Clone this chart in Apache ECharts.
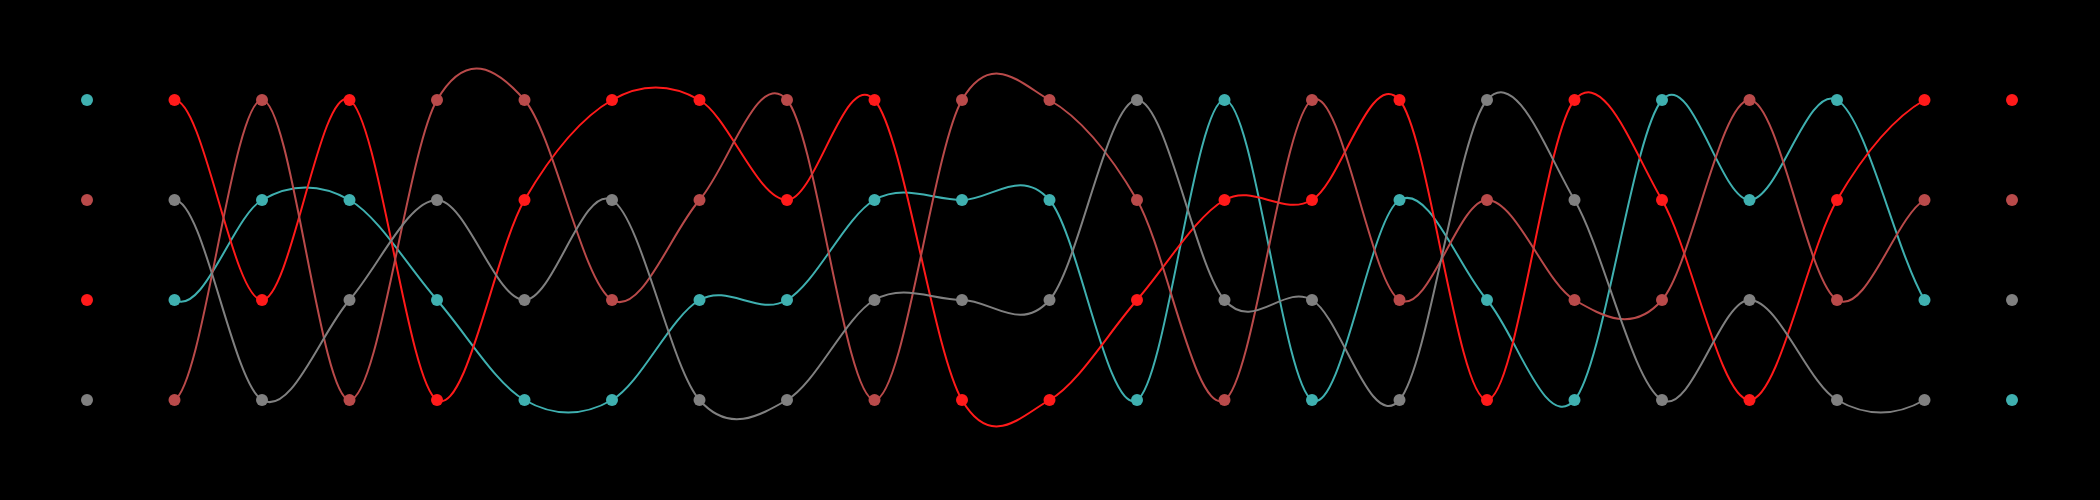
<!DOCTYPE html>
<html>
<head>
<meta charset="utf-8">
<script src="https://cdn.jsdelivr.net/npm/echarts@6/dist/echarts.min.js"></script>
<style>html,body{margin:0;padding:0;background:#000;}#main{width:2100px;height:500px;}</style>
</head>
<body>
<div id="main"></div>
<script>
// categories (23 columns)
const categories = Array.from({length: 23}, (_, i) => String(i + 1));
// rank per column (1 = top)
const cyanRanks  = [1,3,2,2,3,4,4,3,3,2,2,2,4,1,4,2,3,4,1,2,1,3,4];
const redRanks   = [3,1,3,1,4,2,1,1,2,1,4,4,3,2,2,1,4,1,2,4,2,1,1];
const brownRanks = [2,4,1,4,1,1,3,2,1,4,1,1,2,4,1,3,2,3,3,1,3,2,2];
const grayRanks  = [4,2,4,3,2,3,2,4,4,3,3,3,1,3,3,4,1,2,4,3,4,4,3];
const seriesNames = ['A', 'B', 'C', 'D'];
const seriesColors = ['#3fb0b0', '#ff1a1a', '#b94a4a', '#808080'];
const allRanks = [cyanRanks, redRanks, brownRanks, grayRanks];

const last = categories.length - 1;
const series = [];

// Catmull-Rom spline through all columns; first and last segments hidden
allRanks.forEach((r, k) => {
  const pts = r.map((v, i) => [i, v]);
  series.push({
    name: seriesNames[k], type: 'custom', silent: true, z: 2,
    data: pts,
    encode: {x: 0, y: 1},
    renderItem: function (params, api) {
      const i = params.dataIndex;
      if (i === 0 || i >= pts.length - 2) return null;
      const P = j => api.coord(pts[Math.max(0, Math.min(pts.length - 1, j))]);
      const p0 = P(i - 1), p1 = P(i), p2 = P(i + 1), p3 = P(i + 2);
      return {
        type: 'bezierCurve',
        shape: {
          x1: p1[0], y1: p1[1], x2: p2[0], y2: p2[1],
          cpx1: p1[0] + (p2[0] - p0[0]) / 6, cpy1: p1[1] + (p2[1] - p0[1]) / 6,
          cpx2: p2[0] - (p3[0] - p1[0]) / 6, cpy2: p2[1] - (p3[1] - p1[1]) / 6
        },
        style: {stroke: seriesColors[k], lineWidth: 2, fill: null}
      };
    }
  });
});
// dots for every column
allRanks.forEach((r, k) => {
  series.push({
    name: seriesNames[k], type: 'scatter', silent: true, z: 5,
    data: r.map((v, i) => [i, v]),
    symbol: 'circle', symbolSize: 12,
    itemStyle: {color: seriesColors[k], opacity: 1}
  });
});

const chart = echarts.init(document.getElementById('main'));
chart.setOption({
  backgroundColor: '#000',
  animation: false,
  grid: {left: 87, right: 88, top: 100, bottom: 100},
  xAxis: {type: 'category', data: categories, boundaryGap: false, show: false},
  yAxis: {type: 'value', inverse: true, min: 1, max: 4, interval: 1, show: false},
  series: series
});
</script>
</body>
</html>
